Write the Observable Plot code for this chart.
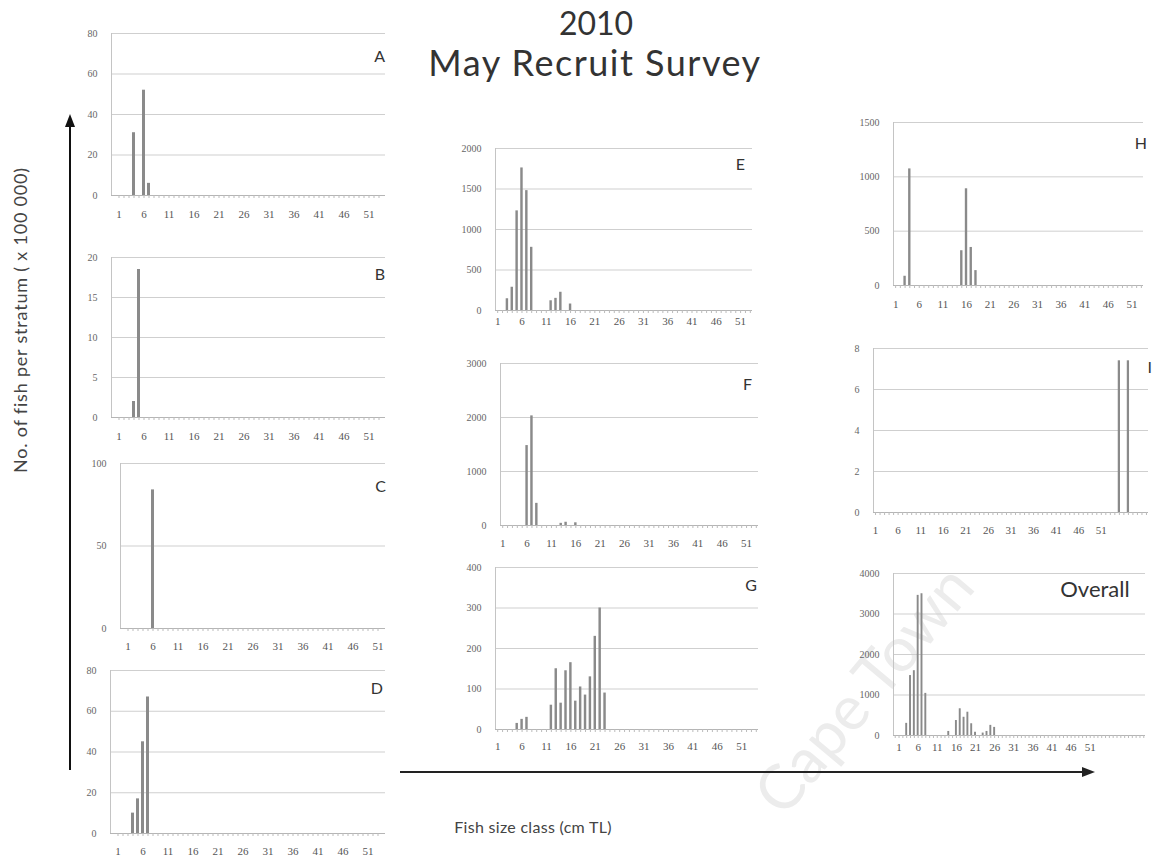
<!DOCTYPE html>
<html><head><meta charset="utf-8">
<script src="https://cdn.jsdelivr.net/npm/d3@7"></script>
<script src="https://cdn.jsdelivr.net/npm/@observablehq/plot@0.6"></script>
<style>
body{margin:0;background:#fff;}
#root{position:relative;width:1161px;height:863px;overflow:hidden;font-family:Lato,"Open Sans",sans-serif;background:#fff}
.abs{position:absolute;white-space:nowrap}
</style></head><body>
<div id="root"></div>
<script>
// ---- data (size class in cm TL, count per stratum x 100 000) ----
const sizeTickLabels = [1, 6, 11, 16, 21, 26, 31, 36, 41, 46, 51];

const aSizes = [4, 6, 7];           const aCounts = [31, 52, 6];
const bSizes = [4, 5];              const bCounts = [2, 18.5];
const cSizes = [6];                 const cCounts = [84];
const dSizes = [4, 5, 6, 7];        const dCounts = [10, 17, 45, 67];
const eSizes = [3, 4, 5, 6, 7, 8, 12, 13, 14, 16];
const eCounts = [145, 287, 1230, 1760, 1480, 780, 120, 150, 225, 80];
const fSizes = [6, 7, 8, 13, 14, 16];
const fCounts = [1480, 2030, 410, 40, 60, 50];
const gSizes = [5, 6, 7, 12, 13, 14, 15, 16, 17, 18, 19, 20, 21, 22, 23];
const gCounts = [15, 25, 30, 60, 150, 65, 145, 165, 70, 105, 85, 130, 230, 300, 90];
const hSizes = [3, 4, 15, 16, 17, 18];
const hCounts = [85, 1073, 320, 890, 350, 137];
const iSizes = [55, 57];            const iCounts = [7.4, 7.4];
const allSizes = [3, 4, 5, 6, 7, 8, 14, 16, 17, 18, 19, 20, 21, 23, 24, 25, 26];
const allCounts = [300, 1480, 1600, 3460, 3500, 1040, 100, 370, 660, 450, 575, 290, 80, 60, 100, 250, 200];

const aTicks = [0, 20, 40, 60, 80];
const bTicks = [0, 5, 10, 15, 20];
const cTicks = [0, 50, 100];
const dTicks = [0, 20, 40, 60, 80];
const eTicks = [0, 500, 1000, 1500, 2000];
const fTicks = [0, 1000, 2000, 3000];
const gTicks = [0, 100, 200, 300, 400];
const hTicks = [0, 500, 1000, 1500];
const iTicks = [0, 2, 4, 6, 8];
const allTicks = [0, 1000, 2000, 3000, 4000];

const panelNames = ["A", "B", "C", "D", "E", "F", "G", "H", "I", "Overall"];

// ---- layout ----
const layout = {
  A: {sizes: aSizes, counts: aCounts, ticks: aTicks, cats: [1, 53], l: 111, r: 385, t: 33, b: 195, gap: 16, lx: 385, ly: 55},
  B: {sizes: bSizes, counts: bCounts, ticks: bTicks, cats: [1, 53], l: 111, r: 385, t: 257, b: 417, gap: 16, lx: 385, ly: 273},
  C: {sizes: cSizes, counts: cCounts, ticks: cTicks, cats: [1, 51], l: 120, r: 385, t: 463, b: 628, gap: 15, lx: 386, ly: 485},
  D: {sizes: dSizes, counts: dCounts, ticks: dTicks, cats: [1, 53], l: 110, r: 385, t: 670, b: 833, gap: 15, lx: 383, ly: 687},
  E: {sizes: eSizes, counts: eCounts, ticks: eTicks, cats: [1, 53], l: 495, r: 752, t: 148, b: 310, gap: 8, lx: 745, ly: 163},
  F: {sizes: fSizes, counts: fCounts, ticks: fTicks, cats: [1, 53], l: 500, r: 758, t: 363, b: 525, gap: 15, lx: 752, ly: 383},
  G: {sizes: gSizes, counts: gCounts, ticks: gTicks, cats: [1, 54], l: 495, r: 758, t: 567, b: 729, gap: 14, lx: 757, ly: 584},
  H: {sizes: hSizes, counts: hCounts, ticks: hTicks, cats: [1, 53], l: 893, r: 1143, t: 122, b: 285, gap: 16, lx: 1147, ly: 142},
  I: {sizes: iSizes, counts: iCounts, ticks: iTicks, cats: [1, 61], l: 873, r: 1148, t: 348, b: 512, gap: 15, lx: 1152, ly: 366},
  Overall: {sizes: allSizes, counts: allCounts, ticks: allTicks, cats: [0, 65], l: 893, r: 1145, t: 573, b: 735, gap: 9, lx: 1095, ly: 588}
};

const root = document.getElementById("root");

function addDiv(text, style) {
  const d = document.createElement("div");
  d.className = "abs";
  d.textContent = text;
  Object.assign(d.style, style);
  root.appendChild(d);
  return d;
}

// watermark (behind everything)
addDiv("Cape Town", {left: "862px", top: "688px", transform: "translate(-50%,-50%) rotate(-50deg)",
  fontSize: "62px", color: "#ececec", zIndex: 0});

const mL = 45, mR = 6, mT = 8, mB = 30;
const tickFont = "Liberation Serif, serif";

for (const name of panelNames) {
  const p = layout[name];
  const cats = d3.range(p.cats[0], p.cats[1] + 1);
  const data = p.sizes.map((s, i) => ({size: s, count: p.counts[i]}));
  const yMax = p.ticks[p.ticks.length - 1];
  const chart = Plot.plot({
    width: p.r - p.l + mL + mR,
    height: p.b - p.t + mT + mB,
    marginLeft: mL, marginRight: mR, marginTop: mT, marginBottom: mB,
    style: {background: "transparent", fontFamily: tickFont, fontSize: "11px", color: "#555"},
    x: {type: "band", domain: cats, paddingInner: 0.5, paddingOuter: 0.2, label: null},
    y: {domain: [0, yMax], label: null},
    marks: [
      Plot.ruleY(p.ticks.filter(t => t > 0), {stroke: "#cfcfcf", strokeWidth: 1}),
      Plot.frame({anchor: "left", stroke: "#c4c4c4"}),
      Plot.barY(data, {x: "size", y: "count", fill: "#8a8a8a"}),
      Plot.ruleY([0], {stroke: "#b5b5b5"}),
      Plot.axisX({ticks: cats, tickSize: 3, tickFormat: () => "", stroke: "#bbb"}),
      Plot.axisX({ticks: sizeTickLabels, tickSize: 0, tickPadding: p.gap - 1, fill: "#555", fontFamily: tickFont, fontSize: 11}),
      Plot.axisY({ticks: p.ticks, tickSize: 0, tickPadding: 14, fill: "#666", tickFormat: d => String(d), fontFamily: tickFont, fontSize: 10})
    ]
  });
  chart.style.position = "absolute";
  chart.style.left = (p.l - mL) + "px";
  chart.style.top = (p.t - mT) + "px";
  chart.style.zIndex = 1;
  root.appendChild(chart);
  addDiv(name, {left: p.lx + "px", top: p.ly + "px", transform: name === "Overall" ? "translate(-50%,-50%)" : "translate(-100%,-50%)",
    fontSize: name === "Overall" ? "22px" : "16px", color: "#333", zIndex: 2});
}

// titles
addDiv("2010", {left: "596px", top: "22px", transform: "translate(-50%,-50%)", fontSize: "32px", color: "#333", zIndex: 2});
addDiv("May Recruit Survey", {left: "595px", top: "62px", transform: "translate(-50%,-50%)", fontSize: "36px", color: "#333", letterSpacing: "1.5px", zIndex: 2});
addDiv("No. of fish per stratum ( x 100 000)", {left: "20px", top: "320px", transform: "translate(-50%,-50%) rotate(-90deg)", fontSize: "18px", color: "#444", letterSpacing: "0.8px", zIndex: 2});
addDiv("Fish size class (cm TL)", {left: "533px", top: "826px", transform: "translate(-50%,-50%)", fontSize: "16px", color: "#444", letterSpacing: "0.3px", zIndex: 2});

// decorative arrows
const ns = "http://www.w3.org/2000/svg";
const ov = document.createElementNS(ns, "svg");
ov.setAttribute("width", 1161); ov.setAttribute("height", 863);
ov.style.position = "absolute"; ov.style.left = "0"; ov.style.top = "0"; ov.style.zIndex = 3; ov.style.pointerEvents = "none";
ov.innerHTML = `
<line x1="70" y1="770" x2="70" y2="124" stroke="#111" stroke-width="2"/>
<path d="M70,114 L65,127 L75,127 Z" fill="#111"/>
<line x1="400" y1="772" x2="1084" y2="772" stroke="#222" stroke-width="2"/>
<path d="M1095,772 L1082,767 L1082,777 Z" fill="#222"/>`;
root.appendChild(ov);
</script></body></html>
